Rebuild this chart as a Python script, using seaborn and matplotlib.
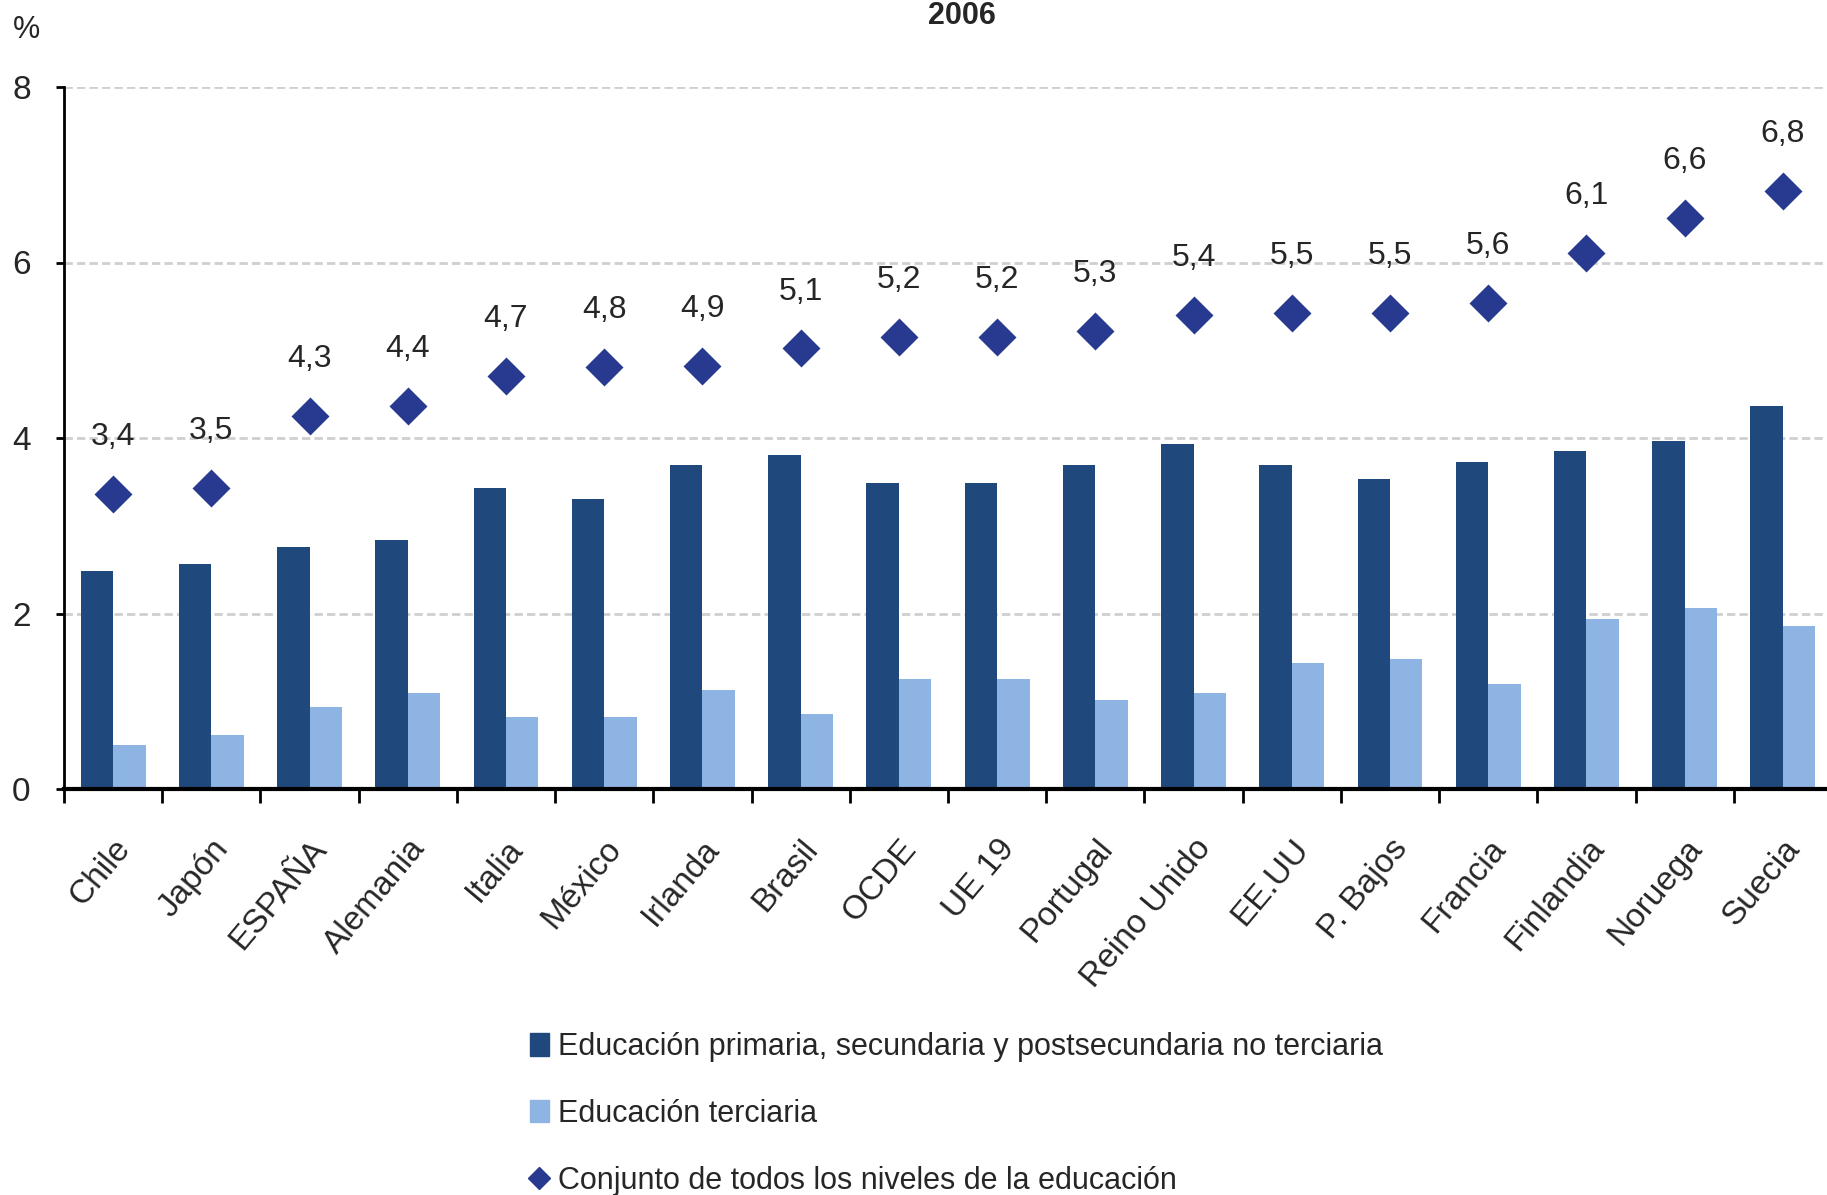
import numpy as np
import pandas as pd
import matplotlib
matplotlib.use("Agg")
import matplotlib.pyplot as plt
from matplotlib.patches import Patch
from matplotlib.lines import Line2D
import seaborn as sns

paises = ["Chile", "Japón", "ESPAÑA", "Alemania", "Italia", "México", "Irlanda", "Brasil",
          "OCDE", "UE 19", "Portugal", "Reino Unido", "EE.UU", "P. Bajos", "Francia",
          "Finlandia", "Noruega", "Suecia"]
no_terciaria = [2.49, 2.56, 2.76, 2.84, 3.43, 3.30, 3.69, 3.81, 3.49, 3.49, 3.69, 3.93,
                3.69, 3.53, 3.73, 3.85, 3.97, 4.36]
terciaria = [0.50, 0.62, 0.94, 1.09, 0.82, 0.82, 1.13, 0.86, 1.25, 1.25, 1.01, 1.09,
             1.44, 1.48, 1.20, 1.94, 2.06, 1.86]
total = [3.36, 3.43, 4.25, 4.37, 4.71, 4.81, 4.82, 5.02, 5.15, 5.15, 5.22, 5.40, 5.43,
         5.43, 5.54, 6.11, 6.51, 6.82]
total_txt = ["3,4", "3,5", "4,3", "4,4", "4,7", "4,8", "4,9", "5,1", "5,2", "5,2", "5,3",
             "5,4", "5,5", "5,5", "5,6", "6,1", "6,6", "6,8"]
series = ["Educación primaria, secundaria y postsecundaria no terciaria",
          "Educación terciaria",
          "Conjunto de todos los niveles de la educación"]

c_dark = "#1F497D"
c_light = "#8EB4E3"
c_diam = "#283A8F"

sns.set_theme(style="white")
plt.rcParams["font.family"] = ["Liberation Sans Narrow", "Liberation Sans", "DejaVu Sans"]

df = pd.DataFrame({"pais": paises * 2,
                   "valor": no_terciaria + terciaria,
                   "serie": [series[0]] * len(paises) + [series[1]] * len(paises)})

W, H = 1827, 1195
fig = plt.figure(figsize=(W / 100, H / 100), dpi=100)
ax = fig.add_axes([64 / W, 1 - 789 / H, (1832 - 64) / W, (789 - 87) / H])

sns.barplot(data=df, x="pais", y="valor", hue="serie", order=paises,
            palette=[c_dark, c_light], width=0.66, saturation=1, legend=False, ax=ax,
            linewidth=0)
sns.pointplot(x=paises, y=total, order=paises, color=c_diam, markers="D",
              linestyle="none", markersize=17, errorbar=None, ax=ax)
for i, (v, t) in enumerate(zip(total, total_txt)):
    ax.annotate(t, (i, v), xytext=(0, 30), textcoords="offset points",
                ha="center", va="bottom", fontsize=23)

ax.set_xlim(-0.5, len(paises) - 0.5)
ax.set_ylim(0, 8)
ax.set_yticks([0, 2, 4, 6, 8])
ax.yaxis.grid(True, color="#CFCFCF", linestyle=(0, (3, 1.5)), linewidth=2)
ax.set_axisbelow(True)
ax.set_xlabel("")
ax.set_ylabel("")
for s in ["top", "right"]:
    ax.spines[s].set_visible(False)
ax.spines["left"].set_color("black")
ax.spines["left"].set_linewidth(2)
ax.spines["bottom"].set_color("black")
ax.spines["bottom"].set_linewidth(3)

ax.set_xticks(np.arange(len(paises)))
ax.set_xticklabels(paises, rotation=50, ha="right", rotation_mode="anchor", fontsize=24)
ax.set_xticks(np.arange(-0.5, len(paises)), minor=True)
ax.tick_params(axis="x", which="major", length=0, pad=32)
ax.tick_params(axis="x", which="minor", length=10, width=2, color="black", direction="out", bottom=True)
ax.tick_params(axis="y", length=6, width=2, color="black", direction="out", left=True,
               labelsize=24, pad=18)

fig.text(26 / W, 1 - 30 / H, "%", fontsize=22, ha="center", va="center")
fig.text(962 / W, 1 - 1 / H, "2006", fontsize=22, weight="bold", ha="center", va="top")

handles = [Patch(color=c_dark), Patch(color=c_light),
           Line2D([], [], marker="D", color=c_diam, linestyle="none", markersize=11)]
fig.legend(handles, series, loc="upper left", bbox_to_anchor=(515 / W, 1 - 1017 / H),
           frameon=False, fontsize=22, handlelength=0.6, handleheight=0.75,
           handletextpad=0.3, labelspacing=1.2, borderpad=0)

fig.savefig("out.png", dpi=100)
